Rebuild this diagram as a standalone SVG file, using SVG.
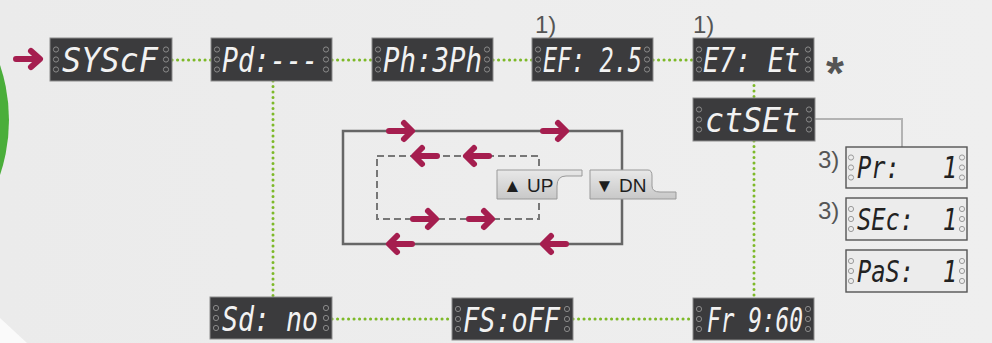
<svg xmlns="http://www.w3.org/2000/svg" xmlns:xlink="http://www.w3.org/1999/xlink" width="992" height="343" viewBox="0 0 992 343">
<style>
.dk{fill:#3b3b3d;stroke:#8c8c8c;stroke-width:1}
.lt{fill:#ececec;stroke:#555;stroke-width:1.4}
.seg{font-family:"DejaVu Sans Mono",monospace;font-style:italic;font-size:34px;fill:#f2f2f2;white-space:pre}
.segd{font-family:"DejaVu Sans Mono",monospace;font-style:italic;font-size:31px;fill:#222;white-space:pre}
.note{font-family:"Liberation Sans",Arial,sans-serif;font-size:24px;fill:#555}
.btn{font-family:"Liberation Sans","DejaVu Sans",sans-serif;font-size:19px;fill:#1e1e1e}
.dot{fill:none;stroke:#7db928;stroke-width:3;stroke-linecap:round;stroke-dasharray:0.1 5.4}
.arr{fill:none;stroke:#a51e4f;stroke-width:6;stroke-linecap:round;stroke-linejoin:round}
</style>
<defs>
<g id="cw"><circle cx="0" cy="-10" r="2.6" fill="none" stroke="#8a8a8a" stroke-width="1"/><circle cx="0" cy="0" r="2.6" fill="none" stroke="#8a8a8a" stroke-width="1"/><circle cx="0" cy="10" r="2.6" fill="none" stroke="#8a8a8a" stroke-width="1"/></g>
<g id="cl"><circle cx="0" cy="-10" r="2.6" fill="none" stroke="#9a9a9a" stroke-width="1"/><circle cx="0" cy="0" r="2.6" fill="none" stroke="#9a9a9a" stroke-width="1"/><circle cx="0" cy="10" r="2.6" fill="none" stroke="#9a9a9a" stroke-width="1"/></g>
<linearGradient id="bg" x1="0" y1="0" x2="1" y2="0"><stop offset="0" stop-color="#ebebeb"/><stop offset="1" stop-color="#efefef"/></linearGradient>
<linearGradient id="bt" x1="0" y1="0" x2="0" y2="1"><stop offset="0" stop-color="#e8e8e8"/><stop offset="1" stop-color="#c8c8c8"/></linearGradient>
</defs>
<rect width="992" height="343" fill="url(#bg)"/>
<circle cx="-164" cy="120" r="173" fill="#4aae3a"/>
<polygon points="0,318 0,343 27,343" fill="#fafafa"/>

<g id="connectors">
<path class="dot" d="M172,60 H211 M332,60 H372 M493,60 H532 M653,60 H693"/>
<path class="dot" d="M273,81 V297 M754,80 V98 M754,141 V298"/>
<path class="dot" d="M332,319 H452 M573,319 H693"/>
<path d="M815,119 H902 V147" fill="none" stroke="#b3b3b3" stroke-width="2"/>
<path class="arr" d="M16,59 H39 M31,51 L40,59 L31,67"/>
</g>

<g id="loop">
<rect x="343" y="131" width="279" height="113" fill="none" stroke="#666" stroke-width="2.5"/>
<rect x="377" y="156" width="162" height="63" fill="none" stroke="#777" stroke-width="2" stroke-dasharray="7 4"/>
<path class="arr" d="M389,131 H411 M404,123 L412,131 L404,139"/>
<path class="arr" d="M543,131 H565 M558,123 L566,131 L558,139"/>
<path class="arr" d="M412,244 H390 M397,236 L389,244 L397,252"/>
<path class="arr" d="M566,244 H544 M551,236 L543,244 L551,252"/>
<path class="arr" d="M437,156 H415 M422,148 L414,156 L422,164"/>
<path class="arr" d="M489,156 H467 M474,148 L466,156 L474,164"/>
<path class="arr" d="M413,219 H435 M428,211 L436,219 L428,227"/>
<path class="arr" d="M469,219 H491 M484,211 L492,219 L484,227"/>
</g>
<g id="btn-up">
<path d="M497,170 H582 V176 H566 Q557,176 557,186 V199 H497 Z" fill="url(#bt)" stroke="#999" stroke-width="1"/>
<text class="btn" x="503" y="192">▲ UP</text>
</g>
<g id="btn-dn">
<path d="M590,170 H648 Q652,170 652,176 V186 Q652,192 660,192 H676 V199 H590 Z" fill="url(#bt)" stroke="#999" stroke-width="1"/>
<text class="btn" x="595" y="192">▼ DN</text>
</g>

<g id="n-syscf"><rect class="dk" x="50" y="38" width="122" height="43"/><use xlink:href="#cw" x="56" y="59.5"/><use xlink:href="#cw" x="166" y="59.5"/><text class="seg" x="62" y="72" textLength="96" lengthAdjust="spacingAndGlyphs">SYScF</text></g>
<g id="n-pd"><rect class="dk" x="211" y="38" width="121" height="43"/><use xlink:href="#cw" x="217" y="59.5"/><use xlink:href="#cw" x="326" y="59.5"/><text class="seg" x="222" y="72" textLength="96" lengthAdjust="spacingAndGlyphs">Pd:---</text></g>
<g id="n-ph"><rect class="dk" x="372" y="38" width="121" height="43"/><use xlink:href="#cw" x="378" y="59.5"/><use xlink:href="#cw" x="487" y="59.5"/><text class="seg" x="383" y="72" textLength="99" lengthAdjust="spacingAndGlyphs">Ph:3Ph</text></g>
<g id="n-ef"><text class="note" x="535" y="33">1)</text><rect class="dk" x="532" y="38" width="121" height="43"/><use xlink:href="#cw" x="538" y="59.5"/><use xlink:href="#cw" x="647" y="59.5"/><text class="seg" x="543" y="72" textLength="99" lengthAdjust="spacingAndGlyphs">EF: 2.5</text></g>
<g id="n-e7"><text class="note" x="693" y="33">1)</text><rect class="dk" x="693" y="38" width="121" height="43"/><use xlink:href="#cw" x="699" y="59.5"/><use xlink:href="#cw" x="808" y="59.5"/><text class="seg" x="703" y="72" textLength="97" lengthAdjust="spacingAndGlyphs">E7: Et</text><text x="826" y="89" font-family="Liberation Sans,Arial,sans-serif" font-weight="bold" font-size="46" fill="#555">*</text></g>
<g id="n-ctset"><rect class="dk" x="693" y="98" width="122" height="43"/><use xlink:href="#cw" x="699" y="119.5"/><use xlink:href="#cw" x="809" y="119.5"/><text class="seg" x="705" y="132" textLength="95" lengthAdjust="spacingAndGlyphs">ctSEt</text></g>
<g id="n-pr"><text class="note" x="818" y="168">3)</text><rect class="lt" x="846" y="147" width="121" height="41"/><use xlink:href="#cl" x="851" y="167.5"/><use xlink:href="#cl" x="962" y="167.5"/><text class="segd" x="857" y="178" textLength="100" lengthAdjust="spacingAndGlyphs">Pr:   1</text></g>
<g id="n-sec"><text class="note" x="818" y="219">3)</text><rect class="lt" x="846" y="198" width="121" height="42"/><use xlink:href="#cl" x="851" y="219"/><use xlink:href="#cl" x="962" y="219"/><text class="segd" x="857" y="230" textLength="100" lengthAdjust="spacingAndGlyphs">SEc:  1</text></g>
<g id="n-pas"><rect class="lt" x="846" y="250" width="121" height="42"/><use xlink:href="#cl" x="851" y="271"/><use xlink:href="#cl" x="962" y="271"/><text class="segd" x="857" y="282" textLength="100" lengthAdjust="spacingAndGlyphs">PaS:  1</text></g>
<g id="n-sd"><rect class="dk" x="210" y="297" width="122" height="42"/><use xlink:href="#cw" x="216" y="318"/><use xlink:href="#cw" x="326" y="318"/><text class="seg" x="222" y="331" textLength="96" lengthAdjust="spacingAndGlyphs">Sd: no</text></g>
<g id="n-fs"><rect class="dk" x="452" y="298" width="121" height="42"/><use xlink:href="#cw" x="458" y="319"/><use xlink:href="#cw" x="567" y="319"/><text class="seg" x="463" y="332" textLength="97" lengthAdjust="spacingAndGlyphs">FS:oFF</text></g>
<g id="n-fr"><rect class="dk" x="693" y="298" width="121" height="42"/><use xlink:href="#cw" x="699" y="319"/><use xlink:href="#cw" x="808" y="319"/><text class="seg" x="707" y="332" textLength="96" lengthAdjust="spacingAndGlyphs">Fr 9:60</text></g>
</svg>
